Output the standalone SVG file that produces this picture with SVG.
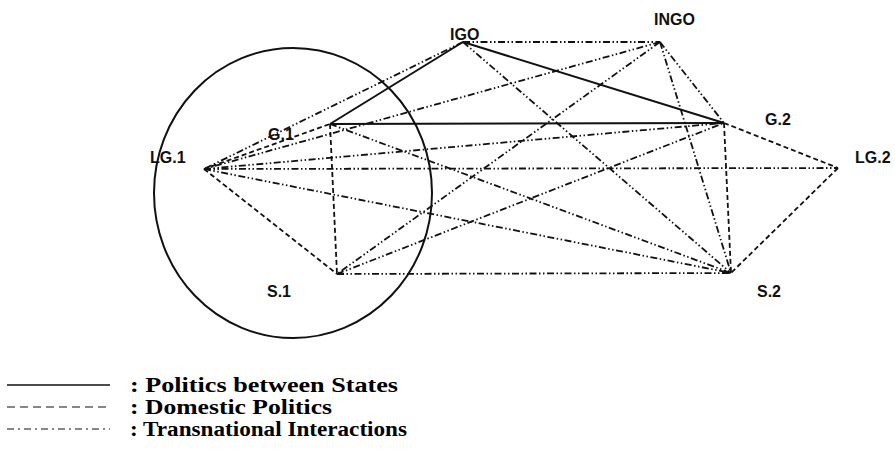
<svg xmlns="http://www.w3.org/2000/svg" width="895" height="455" viewBox="0 0 895 455">
<style>
.lbl{font-family:"Liberation Sans",Arial,sans-serif;font-weight:bold;font-size:16px;fill:#111}
.leg{font-family:"Liberation Serif","Times New Roman",serif;font-weight:bold;font-size:20px;fill:#000}
.solid{stroke:#111;stroke-width:2;fill:none}
.dash{stroke:#111;stroke-width:1.8;fill:none;stroke-dasharray:5 3}
.tn{stroke:#111;stroke-width:1.8;fill:none;stroke-dasharray:7 2.5 1.5 2.5 1.5 2.5}
</style>
<rect width="895" height="455" fill="#fff"/>
<ellipse cx="293" cy="193" rx="139" ry="145" fill="none" stroke="#111" stroke-width="2"/>
<g id="connectors">
<line class="solid" x1="330" y1="124" x2="463" y2="42"/>
<line class="solid" x1="330" y1="124" x2="724" y2="123"/>
<line class="solid" x1="463" y1="42" x2="724" y2="123"/>
<line class="dash" x1="204" y1="169" x2="330" y2="124"/>
<line class="dash" x1="204" y1="169" x2="337" y2="274"/>
<line class="dash" x1="330" y1="124" x2="337" y2="274"/>
<line class="dash" x1="724" y1="123" x2="731" y2="273"/>
<line class="dash" x1="724" y1="123" x2="838" y2="168"/>
<line class="dash" x1="838" y1="168" x2="731" y2="273"/>
<line class="tn" x1="463" y1="42" x2="660" y2="42"/>
<line class="tn" x1="463" y1="42" x2="204" y2="169"/>
<line class="tn" x1="463" y1="42" x2="731" y2="273"/>
<line class="tn" x1="660" y1="42" x2="204" y2="169"/>
<line class="tn" x1="660" y1="42" x2="337" y2="274"/>
<line class="tn" x1="660" y1="42" x2="731" y2="273"/>
<line class="tn" x1="660" y1="42" x2="724" y2="123"/>
<line class="tn" x1="330" y1="124" x2="731" y2="273"/>
<line class="tn" x1="337" y1="274" x2="724" y2="123"/>
<line class="tn" x1="204" y1="169" x2="724" y2="123"/>
<line class="tn" x1="204" y1="169" x2="838" y2="168"/>
<line class="tn" x1="204" y1="169" x2="731" y2="273"/>
<line class="tn" x1="337" y1="274" x2="731" y2="273"/>
</g>
<g id="IGO"><text class="lbl" x="450" y="40">IGO</text></g>
<g id="INGO"><text class="lbl" x="654" y="25">INGO</text></g>
<g id="G1"><text class="lbl" x="268" y="140">G.1</text></g>
<g id="G2"><text class="lbl" x="765" y="125">G.2</text></g>
<g id="LG1"><text class="lbl" x="150" y="163">LG.1</text></g>
<g id="LG2"><text class="lbl" x="855" y="163">LG.2</text></g>
<g id="S1"><text class="lbl" x="267" y="297">S.1</text></g>
<g id="S2"><text class="lbl" x="757" y="297">S.2</text></g>
<g id="legend">
<line class="solid" x1="7" y1="385" x2="110" y2="385" style="stroke-width:1.6"/>
<text class="leg" x="130" y="392" textLength="268" lengthAdjust="spacingAndGlyphs">: Politics between States</text>
<line class="dash" x1="7" y1="407" x2="110" y2="407" style="stroke-width:1.2;stroke-dasharray:8 5"/>
<text class="leg" x="130" y="414" textLength="202" lengthAdjust="spacingAndGlyphs">: Domestic Politics</text>
<line class="tn" x1="7" y1="429" x2="110" y2="429" style="stroke-width:1.2;stroke-dasharray:7 4 2 4"/>
<text class="leg" x="130" y="436" textLength="277" lengthAdjust="spacingAndGlyphs">: Transnational Interactions</text>
</g>
</svg>
